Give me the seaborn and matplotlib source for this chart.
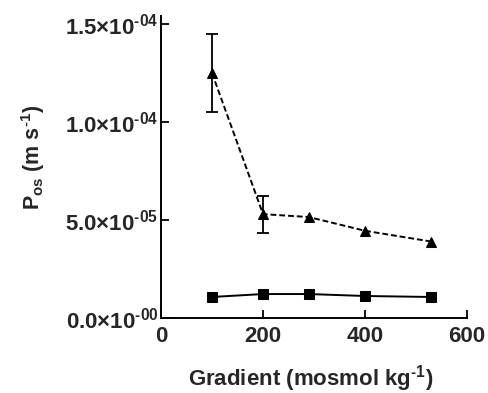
import matplotlib
matplotlib.use("Agg")
import matplotlib.pyplot as plt
import seaborn as sns
import pandas as pd
from matplotlib.ticker import FixedLocator, FixedFormatter

gradient = [100, 200, 290, 400, 530]
tri_vals = [1.25e-4, 5.3e-5, 5.15e-5, 4.45e-5, 3.9e-5]
tri_err = [2.0e-5, 9.5e-6, 0, 0, 0]
sq_vals = [1.07e-5, 1.22e-5, 1.22e-5, 1.12e-5, 1.07e-5]
y_ticks = [0.0, 5.0e-5, 1.0e-4, 1.5e-4]
y_tick_labels = [r"$0.0{\times}10^{\text{-00}}$", r"$5.0{\times}10^{\text{-05}}$",
                 r"$1.0{\times}10^{\text{-04}}$", r"$1.5{\times}10^{\text{-04}}$"]
x_ticks = [0, 200, 400, 600]

sns.set_theme(style="ticks")
plt.rcParams['font.family'] = ['Liberation Sans', 'DejaVu Sans']
plt.rcParams['font.weight'] = 'bold'
plt.rcParams['mathtext.fontset'] = 'custom'
plt.rcParams['mathtext.rm'] = 'Liberation Sans:bold'
plt.rcParams['mathtext.it'] = 'Liberation Sans:bold'
plt.rcParams['mathtext.bf'] = 'Liberation Sans:bold'
plt.rcParams['mathtext.default'] = 'rm'

fig = plt.figure(figsize=(4.88, 3.93), dpi=100)
ax = fig.add_axes([0.33, 0.191, 0.627, 0.768])

df_tri = pd.DataFrame({"x": gradient, "y": tri_vals})
df_sq = pd.DataFrame({"x": gradient, "y": sq_vals})

sns.lineplot(data=df_tri, x="x", y="y", ax=ax, color="black", lw=1.4,
             linestyle=(0, (3, 1.5)), marker="^", markersize=7.5, markeredgecolor="black")
sns.lineplot(data=df_sq, x="x", y="y", ax=ax, color="black", lw=1.4,
             marker="s", markersize=7, markeredgecolor="black")
ax.errorbar(gradient[:2], tri_vals[:2], yerr=tri_err[:2], fmt="none",
            ecolor="black", elinewidth=1.3, capsize=4.5, capthick=1.3)

ax.set_xlim(0, 600)
ax.set_ylim(0, 1.541e-4)
ax.xaxis.set_major_locator(FixedLocator(x_ticks))
ax.yaxis.set_major_locator(FixedLocator(y_ticks))
ax.yaxis.set_major_formatter(FixedFormatter(y_tick_labels))
ax.tick_params(direction="in", length=6, width=1.3, labelsize=16, color="black")
ax.tick_params(axis="x", pad=6)
ax.tick_params(axis="y", pad=2)
for lab in ax.get_xticklabels() + ax.get_yticklabels():
    lab.set_fontweight("bold")
sns.despine(ax=ax)
for s in ["left", "bottom"]:
    ax.spines[s].set_linewidth(1.4)
    ax.spines[s].set_color("black")

ax.set_xlabel("")
ax.set_ylabel("")
fig.text(311 / 488, 1 - 379 / 393, r"Gradient (mosmol kg$^{\text{-1}}$)", fontsize=16,
         fontweight="bold", ha="center", va="center")
fig.text(33 / 488, 1 - 157 / 393, r"P$_{\text{os}}$ (m s$^{\text{-1}}$)", fontsize=15.5,
         fontweight="bold", ha="center", va="center", rotation=90)

fig.savefig("out.png", dpi=100)
